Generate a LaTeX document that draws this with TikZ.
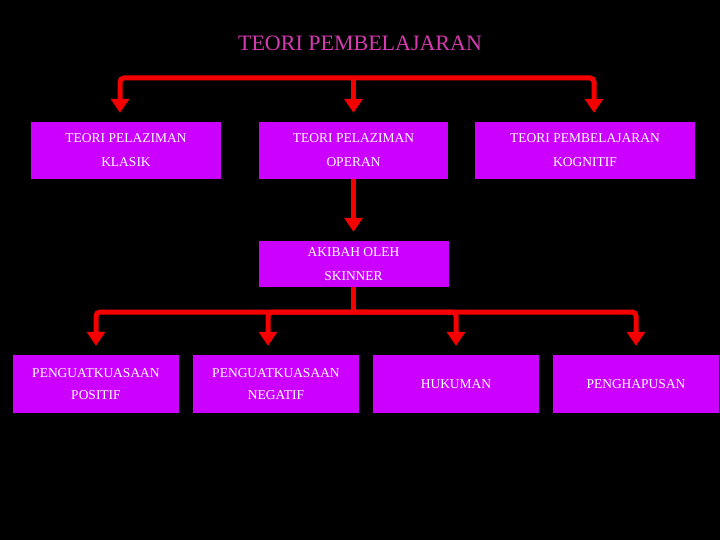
\documentclass[tikz,border=0pt]{standalone}
\usepackage{fontspec}
\setmainfont{Liberation Serif}
\usetikzlibrary{arrows.meta}
\definecolor{boxviolet}{RGB}{204,0,255}
\definecolor{titlepink}{RGB}{214,58,176}
\definecolor{linkred}{RGB}{245,0,0}

\begin{document}
\begin{tikzpicture}[
x=1pt,
y=-1pt,
box/.style={
fill=boxviolet,
text=white,
align=center,
inner sep=0pt,
font=\fontsize{13.5}{24}\selectfont
},
link/.style={
draw=linkred,
line width=5pt,
rounded corners=4pt
},
arrow/.style={
link,
-{Triangle[width=18pt,length=14pt]},
shorten >=9pt
}
]

\fill[black] (0,0) rectangle (720,540);

\node[text=titlepink, font=\fontsize{22}{26}\selectfont] (T) at (360,43)
{TEORI PEMBELAJARAN};

\node[box, minimum width=190pt, minimum height=57pt] (K) at (126,150.5)
{TEORI PELAZIMAN\\KLASIK};

\node[box, minimum width=189pt, minimum height=57pt] (O) at (353.5,150.5)
{TEORI PELAZIMAN\\OPERAN};

\node[box, minimum width=220pt, minimum height=57pt] (G) at (585,150.5)
{TEORI PEMBELAJARAN\\KOGNITIF};

\node[box, minimum width=190pt, minimum height=46pt] (S) at (353.5,264)
{AKIBAH OLEH\\SKINNER};

\node[box, minimum width=166pt, minimum height=58pt, font=\fontsize{13.5}{22}\selectfont] (PP) at (96,384)
{PENGUATKUASAAN\\POSITIF};

\node[box, minimum width=166pt, minimum height=58pt, font=\fontsize{13.5}{22}\selectfont] (PN) at (276,384)
{PENGUATKUASAAN\\NEGATIF};

\node[box, minimum width=166pt, minimum height=58pt] (H) at (456,384)
{HUKUMAN};

\node[box, minimum width=166pt, minimum height=58pt] (E) at (636,384)
{PENGHAPUSAN};

\coordinate (top) at (353.5,78);
\coordinate (bot) at (353.5,312);

\draw[arrow] (top) -| ([xshift=-6pt]K.north);
\draw[arrow] (top) -- (O.north);
\draw[arrow] (top) -| ([xshift=9pt]G.north);

\draw[arrow] (O) -- (S);
\draw[link] (S) -- (bot);

\draw[arrow] (bot) -| (PP.north);
\draw[arrow] (bot) -| ([xshift=-8pt]PN.north);
\draw[arrow] (bot) -| (H.north);
\draw[arrow] (bot) -| (E.north);

\end{tikzpicture}
\end{document}
